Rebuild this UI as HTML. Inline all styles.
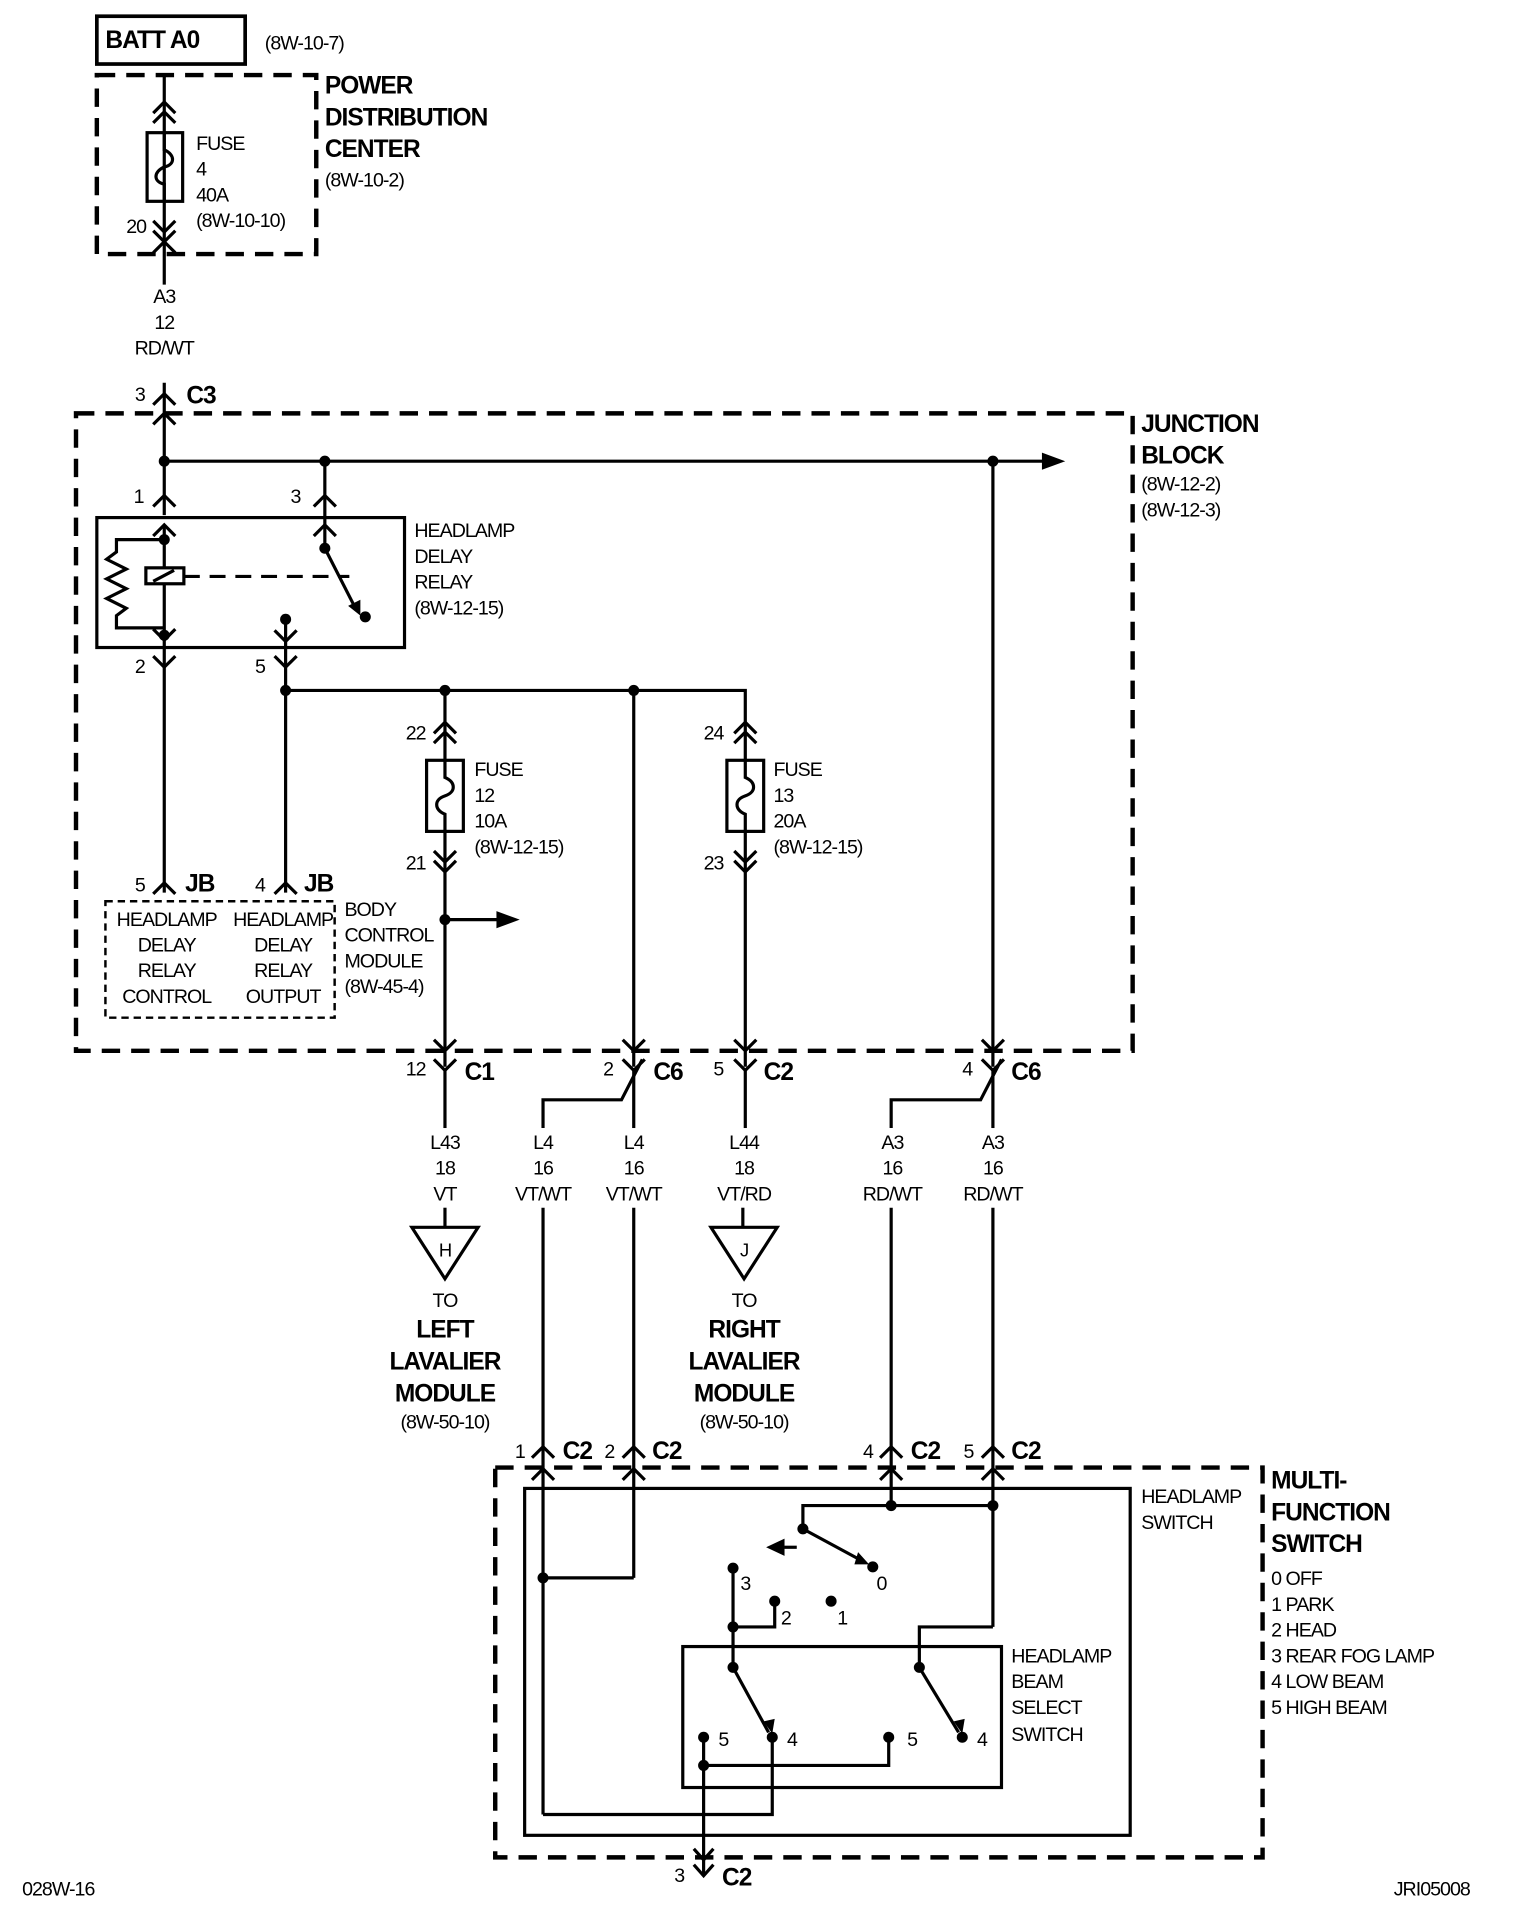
<!DOCTYPE html>
<html><head><meta charset="utf-8"><style>
html,body{margin:0;padding:0;background:#fff}
svg{display:block}
text{font-family:"Liberation Sans",Arial,sans-serif;fill:#000;font-size:16px;letter-spacing:-0.8px}
.b{font-weight:bold;font-size:20px;letter-spacing:-0.8px}
.m{text-anchor:middle}
.w{fill:none;stroke:#000;stroke-width:2.6}
.d{fill:none;stroke:#000;stroke-width:3.6;stroke-dasharray:15 9}
</style></head><body>
<svg width="1520" height="1930" viewBox="0 0 1240 1574" xmlns="http://www.w3.org/2000/svg">
<g class="w">
<!-- BATT -->
<rect x="79" y="13" width="121" height="39" stroke-width="3"/>
<!-- PDC wire -->
<line x1="134" y1="60" x2="134" y2="232"/>
<polyline points="125,92 134,83 143,92"/><polyline points="125,100 134,91 143,100"/>
<rect x="120" y="108" width="29" height="56"/>
<path d="M134,108 V122 C143,126 143,134 134,136 C125,140 125,148 134,150 V164"/>
<polyline points="125,180 134,189 143,180"/><polyline points="125,188 134,197 143,188"/>
<polyline points="125,206 134,197 143,206"/>
<!-- C3 -->
<line x1="134" y1="312" x2="134" y2="420"/>
<polyline points="125,330 134,321 143,330"/>
<polyline points="125,346 134,337 143,346"/>
<!-- bus -->
<line x1="134" y1="376" x2="852" y2="376"/>
<line x1="265" y1="376" x2="265" y2="447"/>
<line x1="810" y1="376" x2="810" y2="870"/>
<polyline points="125,413 134,404 143,413"/><polyline points="256,413 265,404 274,413"/>
<!-- relay -->
<rect x="79" y="422" width="251" height="106"/>
<polyline points="125,437 134,428 143,437"/><polyline points="256,437 265,428 274,437"/>
<line x1="134" y1="428" x2="134" y2="728"/>
<path d="M134,440 H95 V450 L87,456 L103,464 L87,472 L103,480 L87,488 L103,496 L95,502 V512 H134"/>
<rect x="119" y="463" width="31" height="13" fill="#fff"/>
<line x1="125" y1="474" x2="142" y2="465"/>
<line x1="150" y1="470" x2="285" y2="470" stroke-dasharray="13 8"/>
<line x1="265" y1="447" x2="290" y2="496"/>
<polyline points="125,513 134,522 143,513"/>
<line x1="233" y1="505" x2="233" y2="563"/>
<polyline points="224,514 233,523 242,514"/>
<polyline points="125,535 134,544 143,535"/><polyline points="224,535 233,544 242,535"/>
<!-- horizontal 563 -->
<path d="M233,563 H608 V870"/>
<line x1="363" y1="563" x2="363" y2="870"/>
<line x1="517" y1="563" x2="517" y2="870"/>
<line x1="233" y1="563" x2="233" y2="728"/>
<!-- fuse 12 -->
<polyline points="354,598 363,589 372,598"/><polyline points="354,606 363,597 372,606"/>
<rect x="348" y="620" width="30" height="58" fill="#fff"/>
<path d="M363,620 V634 C372,638 372,646 363,649 C354,652 354,660 363,664 V678"/>
<polyline points="354,694 363,703 372,694"/><polyline points="354,702 363,711 372,702"/>
<line x1="363" y1="750" x2="408" y2="750"/>
<!-- fuse 13 -->
<polyline points="599,598 608,589 617,598"/><polyline points="599,606 608,597 617,606"/>
<rect x="593" y="620" width="30" height="58" fill="#fff"/>
<path d="M608,620 V634 C617,638 617,646 608,649 C599,652 599,660 608,664 V678"/>
<polyline points="599,694 608,703 617,694"/><polyline points="599,702 608,711 617,702"/>
<!-- JB pins -->
<polyline points="125,729 134,720 143,729"/><polyline points="224,729 233,720 242,729"/>
<rect x="86" y="735" width="187" height="95" stroke-dasharray="6 4" stroke-width="2"/>
<!-- bottom JB male chevrons -->
<polyline points="354,848 363,857 372,848"/><polyline points="508,848 517,857 526,848"/>
<polyline points="599,848 608,857 617,848"/><polyline points="801,848 810,857 819,848"/>
<!-- Y connectors -->
<polyline points="354,864 363,873 372,864"/><polyline points="508,864 517,873 526,864"/>
<polyline points="599,864 608,873 617,864"/><polyline points="801,864 810,873 819,864"/>
<line x1="363" y1="873" x2="363" y2="920"/>
<line x1="517" y1="873" x2="517" y2="920"/>
<line x1="608" y1="873" x2="608" y2="920"/>
<line x1="810" y1="873" x2="810" y2="920"/>
<path d="M524,864 L507,897 H443 V920"/>
<path d="M817,864 L800,897 H727 V920"/>
<!-- lower wires -->
<line x1="363" y1="985" x2="363" y2="1000"/>
<line x1="606" y1="985" x2="606" y2="1000"/>
<polygon points="336,1001 390,1001 363,1043"/>
<polygon points="580,1001 634,1001 607,1043"/>
<line x1="443" y1="985" x2="443" y2="1480"/>
<line x1="517" y1="985" x2="517" y2="1287"/>
<line x1="727" y1="985" x2="727" y2="1228"/>
<line x1="810" y1="985" x2="810" y2="1327"/>
<polyline points="434,1189 443,1180 452,1189"/><polyline points="508,1189 517,1180 526,1189"/>
<polyline points="718,1189 727,1180 736,1189"/><polyline points="801,1189 810,1180 819,1189"/>
<polyline points="434,1207 443,1198 452,1207"/><polyline points="508,1207 517,1198 526,1207"/>
<polyline points="718,1207 727,1198 736,1207"/><polyline points="801,1207 810,1198 819,1207"/>
<!-- MFS inner -->
<rect x="428" y="1214" width="494" height="283"/>
<rect x="557" y="1343" width="260" height="115"/>
<path d="M443,1287 H517"/>
<path d="M443,1480 H630 V1417"/>
<path d="M655,1247 V1228 H810"/>
<line x1="655" y1="1247" x2="705" y2="1274"/>
<line x1="650" y1="1262" x2="636" y2="1262" stroke-dasharray="10 6"/>
<path d="M598,1279 V1360"/>
<path d="M598,1327 H632 V1306"/>
<path d="M810,1327 H750 V1360"/>
<line x1="598" y1="1360" x2="627" y2="1413"/>
<line x1="750" y1="1360" x2="782" y2="1413"/>
<path d="M574,1417 V1530"/>
<path d="M574,1440 H725 V1417"/>
<polyline points="566,1508 574,1517 582,1508"/>
<polyline points="566,1521 574,1530 582,1521"/>
</g>
<!-- dashed boxes -->
<rect class="d" x="79" y="61" width="179" height="146"/>
<rect class="d" x="62" y="337" width="862" height="520"/>
<rect class="d" x="404" y="1197" width="626" height="318"/>
<!-- dots & arrowheads -->
<g fill="#000">
<circle cx="134" cy="376" r="4.5"/><circle cx="265" cy="376" r="4.5"/><circle cx="810" cy="376" r="4.5"/>
<polygon points="850,369 869,376 850,383"/>
<circle cx="134" cy="440" r="4.5"/><circle cx="134" cy="518" r="4.5"/>
<circle cx="265" cy="447" r="4.5"/><circle cx="298" cy="503" r="4.5"/><circle cx="233" cy="505" r="4.5"/>
<polygon points="284,494 294,502 294,489"/>
<circle cx="233" cy="563" r="4.5"/><circle cx="363" cy="563" r="4.5"/><circle cx="517" cy="563" r="4.5"/>
<circle cx="363" cy="750" r="4.5"/><polygon points="405,743 424,750 405,757"/>
<circle cx="443" cy="1287" r="4.5"/>
<circle cx="727" cy="1228" r="4.5"/><circle cx="810" cy="1228" r="4.5"/><circle cx="655" cy="1247" r="4.5"/>
<circle cx="712" cy="1278" r="4.5"/><polygon points="700,1266 709,1276 697,1276"/>
<polygon points="625,1262 640,1255 640,1269"/>
<circle cx="598" cy="1279" r="4.5"/><circle cx="632" cy="1306" r="4.5"/><circle cx="678" cy="1306" r="4.5"/>
<circle cx="598" cy="1327" r="4.5"/><circle cx="598" cy="1360" r="4.5"/><circle cx="750" cy="1360" r="4.5"/>
<circle cx="574" cy="1417" r="4.5"/><circle cx="630" cy="1417" r="4.5"/><circle cx="725" cy="1417" r="4.5"/><circle cx="785" cy="1417" r="4.5"/>
<polygon points="623,1404 630,1414 632,1402"/><polygon points="778,1404 785,1414 787,1402"/>
<circle cx="574" cy="1440" r="4.5"/>
</g>
<!-- text -->
<text class="b" x="86" y="39">BATT A0</text>
<text x="216" y="40">(8W-10-7)</text>
<text class="b" x="265" y="76">POWER</text>
<text class="b" x="265" y="102">DISTRIBUTION</text>
<text class="b" x="265" y="128">CENTER</text>
<text x="265" y="152">(8W-10-2)</text>
<text x="160" y="122">FUSE</text><text x="160" y="143">4</text><text x="160" y="164">40A</text><text x="160" y="185">(8W-10-10)</text>
<text x="103" y="190">20</text>
<text class="m" x="134" y="247">A3</text><text class="m" x="134" y="268">12</text><text class="m" x="134" y="289">RD/WT</text>
<text x="110" y="327">3</text><text class="b" x="152" y="329">C3</text>
<text class="b" x="931" y="352">JUNCTION</text><text class="b" x="931" y="378">BLOCK</text>
<text x="931" y="400">(8W-12-2)</text><text x="931" y="421">(8W-12-3)</text>
<text x="109" y="410">1</text><text x="237" y="410">3</text>
<text x="338" y="438">HEADLAMP</text><text x="338" y="459">DELAY</text><text x="338" y="480">RELAY</text><text x="338" y="501">(8W-12-15)</text>
<text x="110" y="549">2</text><text x="208" y="549">5</text>
<text x="331" y="603">22</text><text x="331" y="709">21</text>
<text x="574" y="603">24</text><text x="574" y="709">23</text>
<text x="387" y="633">FUSE</text><text x="387" y="654">12</text><text x="387" y="675">10A</text><text x="387" y="696">(8W-12-15)</text>
<text x="631" y="633">FUSE</text><text x="631" y="654">13</text><text x="631" y="675">20A</text><text x="631" y="696">(8W-12-15)</text>
<text x="110" y="727">5</text><text class="b" x="151" y="727">JB</text>
<text x="208" y="727">4</text><text class="b" x="248" y="727">JB</text>
<text class="m" x="136" y="755">HEADLAMP</text><text class="m" x="136" y="776">DELAY</text><text class="m" x="136" y="797">RELAY</text><text class="m" x="136" y="818">CONTROL</text>
<text class="m" x="231" y="755">HEADLAMP</text><text class="m" x="231" y="776">DELAY</text><text class="m" x="231" y="797">RELAY</text><text class="m" x="231" y="818">OUTPUT</text>
<text x="281" y="747">BODY</text><text x="281" y="768">CONTROL</text><text x="281" y="789">MODULE</text><text x="281" y="810">(8W-45-4)</text>
<text x="331" y="877">12</text><text class="b" x="379" y="881">C1</text>
<text x="492" y="877">2</text><text class="b" x="533" y="881">C6</text>
<text x="582" y="877">5</text><text class="b" x="623" y="881">C2</text>
<text x="785" y="877">4</text><text class="b" x="825" y="881">C6</text>
<g class="m">
<text class="m" x="363" y="937">L43</text><text class="m" x="363" y="958">18</text><text class="m" x="363" y="979">VT</text>
<text class="m" x="443" y="937">L4</text><text class="m" x="443" y="958">16</text><text class="m" x="443" y="979">VT/WT</text>
<text class="m" x="517" y="937">L4</text><text class="m" x="517" y="958">16</text><text class="m" x="517" y="979">VT/WT</text>
<text class="m" x="607" y="937">L44</text><text class="m" x="607" y="958">18</text><text class="m" x="607" y="979">VT/RD</text>
<text class="m" x="728" y="937">A3</text><text class="m" x="728" y="958">16</text><text class="m" x="728" y="979">RD/WT</text>
<text class="m" x="810" y="937">A3</text><text class="m" x="810" y="958">16</text><text class="m" x="810" y="979">RD/WT</text>
</g>
<text class="m" x="363" y="1025" style="font-size:15px">H</text>
<text class="m" x="607" y="1025" style="font-size:15px">J</text>
<text class="m" x="363" y="1066">TO</text><text class="b m" x="363" y="1091">LEFT</text><text class="b m" x="363" y="1117">LAVALIER</text><text class="b m" x="363" y="1143">MODULE</text><text class="m" x="363" y="1165">(8W-50-10)</text>
<text class="m" x="607" y="1066">TO</text><text class="b m" x="607" y="1091">RIGHT</text><text class="b m" x="607" y="1117">LAVALIER</text><text class="b m" x="607" y="1143">MODULE</text><text class="m" x="607" y="1165">(8W-50-10)</text>
<text x="420" y="1189">1</text><text class="b" x="459" y="1190">C2</text>
<text x="493" y="1189">2</text><text class="b" x="532" y="1190">C2</text>
<text x="704" y="1189">4</text><text class="b" x="743" y="1190">C2</text>
<text x="786" y="1189">5</text><text class="b" x="825" y="1190">C2</text>
<text x="931" y="1226">HEADLAMP</text><text x="931" y="1247">SWITCH</text>
<text class="b" x="1037" y="1214">MULTI-</text><text class="b" x="1037" y="1240">FUNCTION</text><text class="b" x="1037" y="1266">SWITCH</text>
<text x="1037" y="1293">0 OFF</text><text x="1037" y="1314">1 PARK</text><text x="1037" y="1335">2 HEAD</text>
<text x="1037" y="1356">3 REAR FOG LAMP</text><text x="1037" y="1377">4 LOW BEAM</text><text x="1037" y="1398">5 HIGH BEAM</text>
<text x="825" y="1356">HEADLAMP</text><text x="825" y="1377">BEAM</text><text x="825" y="1398">SELECT</text><text x="825" y="1420">SWITCH</text>
<text x="604" y="1297">3</text><text x="715" y="1297">0</text><text x="637" y="1325">2</text><text x="683" y="1325">1</text>
<text x="586" y="1424">5</text><text x="642" y="1424">4</text><text x="740" y="1424">5</text><text x="797" y="1424">4</text>
<text x="550" y="1535">3</text><text class="b" x="589" y="1538">C2</text>
<text x="18" y="1546">028W-16</text>
<text x="1137" y="1546">JRI05008</text>
</svg>
</body></html>
